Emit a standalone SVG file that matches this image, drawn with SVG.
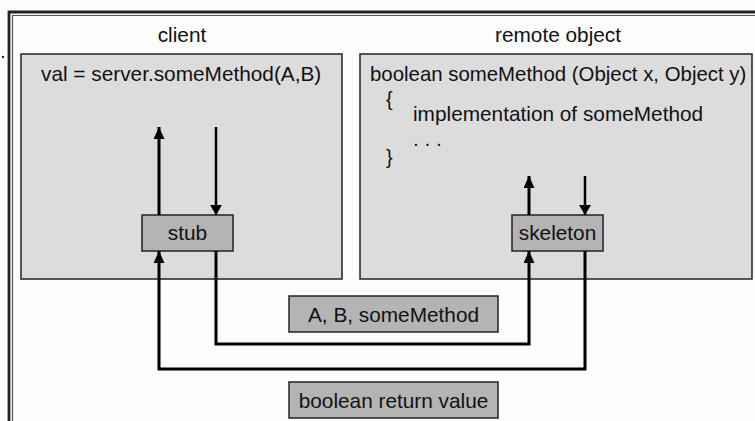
<svg xmlns="http://www.w3.org/2000/svg" width="755" height="421" viewBox="0 0 755 421">
<defs>
<style>
text{font-family:"Liberation Sans",Arial,sans-serif;font-size:20.8px;fill:#111}
.c{text-anchor:middle}
.br{font-size:20px}
.area{fill:#dcdcdc;stroke:#222;stroke-width:1.5}
.box{fill:#b4b4b4;stroke:#222;stroke-width:1.5}
.w{fill:none;stroke:#000;stroke-width:3}
.t{fill:none;stroke:#000;stroke-width:2.5}
</style>
<marker id="ah" viewBox="0 0 10 12" refX="10" refY="6" markerWidth="11" markerHeight="12" markerUnits="userSpaceOnUse" orient="auto">
<path d="M0,0 L10,6 L0,12 Z" fill="#000"/>
</marker>
<marker id="ah2" viewBox="0 0 12 11" refX="12" refY="5.5" markerWidth="13" markerHeight="11" markerUnits="userSpaceOnUse" orient="auto">
<path d="M0,0 L12,5.5 L0,11 Z" fill="#000"/>
</marker>
</defs>
<rect width="755" height="421" fill="#fdfdfd"/>
<g id="frame">
<path d="M9,421 V12 H755" fill="none" stroke="#222" stroke-width="2.8"/>
<path d="M12.5,421 V15.5 H755" fill="none" stroke="#555" stroke-width="1.2"/>
<circle cx="3" cy="57" r="1.2" fill="#222"/>
</g>
<g id="client">
<text class="c" x="182" y="42">client</text>
<rect class="area" x="21" y="54" width="321" height="225"/>
<text x="41" y="81">val = server.someMethod(A,B)</text>
</g>
<g id="remote">
<text class="c" x="558" y="42">remote object</text>
<rect class="area" x="360" y="54" width="392" height="225"/>
<text x="370" y="81" style="font-size:20.4px">boolean someMethod (Object x, Object y)</text>
<text class="br" x="386" y="106">{</text>
<text x="413" y="121">implementation of someMethod</text>
<text x="413" y="146">. . .</text>
<text class="br" x="386" y="164">}</text>
</g>
<g id="stub">
<rect class="box" x="142" y="215" width="91" height="36"/>
<text class="c" x="187.5" y="240">stub</text>
</g>
<g id="skeleton">
<rect class="box" x="512" y="215" width="91" height="36"/>
<text class="c" x="557.5" y="240">skeleton</text>
</g>
<g id="params">
<rect class="box" x="289" y="296" width="209" height="36"/>
<text class="c" x="393.5" y="322">A, B, someMethod</text>
</g>
<g id="retval">
<rect class="box" x="289" y="382" width="209" height="36"/>
<text class="c" x="393.5" y="408">boolean return value</text>
</g>
<g id="connectors">
<line class="w" x1="159" y1="215" x2="159" y2="127" marker-end="url(#ah2)"/>
<line class="t" x1="216" y1="127" x2="216" y2="215" marker-end="url(#ah)"/>
<line class="w" x1="529" y1="215" x2="529" y2="176" marker-end="url(#ah2)"/>
<line class="t" x1="585" y1="176" x2="585" y2="215" marker-end="url(#ah)"/>
<path class="w" d="M216,251 V344 H529 V251" marker-end="url(#ah2)"/>
<path class="w" d="M585,251 V369 H159 V251" marker-end="url(#ah2)"/>
</g>
</svg>
